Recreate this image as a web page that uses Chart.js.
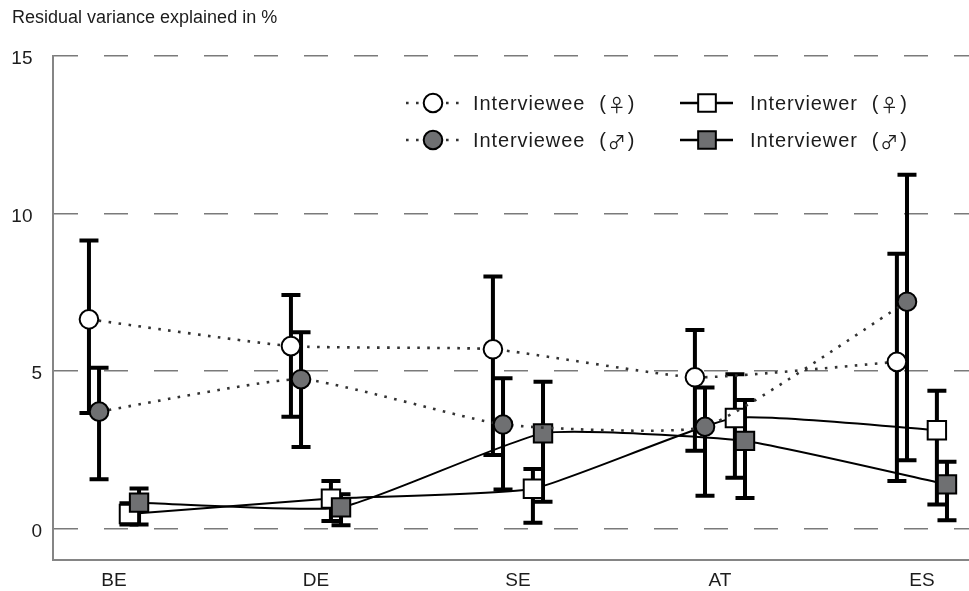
<!DOCTYPE html>
<html><head><meta charset="utf-8">
<script src="https://cdn.jsdelivr.net/npm/chart.js@4.4.1/dist/chart.umd.min.js"></script>
<style>html,body{margin:0;padding:0;background:#fff;overflow:hidden;}</style>
</head><body>
<canvas id="c" width="969" height="591"></canvas>
<script>
// ---------- DATA ----------
const categories = ['BE', 'DE', 'SE', 'AT', 'ES'];
const yTickValues = [0, 5, 10, 15];
const yTickLabels = ['0', '5', '10\u2002', '15\u2002'];
const titleText = 'Residual variance explained in %';

const intervieweeFemale     = [6.64, 5.79, 5.69, 4.80, 5.29];
const intervieweeFemaleLow  = [3.67, 3.55, 2.33, 2.47, 1.51];
const intervieweeFemaleHigh = [9.14, 7.41, 8.00, 6.30, 8.72];

const intervieweeMale       = [3.71, 4.74, 3.30, 3.23, 7.20];
const intervieweeMaleLow    = [1.56, 2.59, 1.24, 1.04, 2.17];
const intervieweeMaleHigh   = [5.10, 6.23, 4.77, 4.48, 11.23];

const interviewerFemale     = [0.46, 0.95, 1.26, 3.51, 3.12];
const interviewerFemaleLow  = [0.13, 0.24, 0.18, 1.61, 0.76];
const interviewerFemaleHigh = [0.80, 1.51, 1.89, 4.90, 4.37];

const interviewerMale       = [0.82, 0.67, 3.02, 2.78, 1.40];
const interviewerMaleLow    = [0.13, 0.10, 0.85, 0.97, 0.26];
const interviewerMaleHigh   = [1.27, 1.09, 4.66, 4.08, 2.12];

// ---------- STYLE ----------
const FONT = '"Liberation Sans", Arial, "DejaVu Sans", sans-serif';
const SYMBOL_FONT = '"Noto Sans CJK JP", "DejaVu Sans", sans-serif';
const GRAY = '#6f7072';
const TEXT = '#1c1c1c';

function pts(vals, off) { return vals.map((v, i) => ({x: i + off, y: v})); }

const series = {
  ieF: {label: 'Interviewee (\u2640)', data: pts(intervieweeFemale, -0.124), low: intervieweeFemaleLow, high: intervieweeFemaleHigh,
        dotted: true, style: 'circle', fill: '#ffffff'},
  ieM: {label: 'Interviewee (\u2642)', data: pts(intervieweeMale, -0.074), low: intervieweeMaleLow, high: intervieweeMaleHigh,
        dotted: true, style: 'circle', fill: GRAY},
  irF: {label: 'Interviewer (\u2640)', data: pts(interviewerFemale, 0.074), low: interviewerFemaleLow, high: interviewerFemaleHigh,
        dotted: false, style: 'rect', fill: '#ffffff'},
  irM: {label: 'Interviewer (\u2642)', data: pts(interviewerMale, 0.124), low: interviewerMaleLow, high: interviewerMaleHigh,
        dotted: false, style: 'rect', fill: GRAY}
};

function makeDataset(key) {
  const s = series[key];
  return {
    key: key,
    label: s.label,
    data: s.data,
    errLow: s.low,
    errHigh: s.high,
    borderColor: s.dotted ? '#333333' : '#000000',
    borderWidth: s.dotted ? 2.6 : 2,
    borderDash: s.dotted ? [2.6, 7.4] : [],
    tension: 0.15,
    pointStyle: s.style,
    pointRadius: s.style === 'circle' ? 9.3 : 13,
    pointBackgroundColor: s.fill,
    pointBorderColor: '#000000',
    pointBorderWidth: 2,
    fill: false
  };
}

// index 0 is drawn on top
const datasets = ['ieM', 'ieF', 'irM', 'irF'].map(makeDataset);

// ---------- PLUGINS ----------
const errorBars = {
  id: 'errorBars',
  beforeDatasetsDraw(chart) {
    const ctx = chart.ctx, xs = chart.scales.x, ys = chart.scales.y;
    ctx.save();
    ctx.strokeStyle = '#000';
    ctx.lineWidth = 4;
    ctx.lineCap = 'butt';
    chart.data.datasets.forEach(ds => {
      ds.data.forEach((p, i) => {
        const x = xs.getPixelForValue(p.x);
        const y1 = ys.getPixelForValue(ds.errLow[i]);
        const y2 = ys.getPixelForValue(ds.errHigh[i]);
        ctx.beginPath();
        ctx.moveTo(x, y1); ctx.lineTo(x, y2);
        ctx.moveTo(x - 9.5, y1); ctx.lineTo(x + 9.5, y1);
        ctx.moveTo(x - 9.5, y2); ctx.lineTo(x + 9.5, y2);
        ctx.stroke();
      });
    });
    ctx.restore();
  }
};

function drawMarker(ctx, ds, x, y) {
  ctx.save();
  ctx.fillStyle = ds.pointBackgroundColor;
  ctx.strokeStyle = ds.pointBorderColor;
  ctx.lineWidth = ds.pointBorderWidth;
  ctx.setLineDash([]);
  ctx.beginPath();
  if (ds.pointStyle === 'circle') {
    ctx.arc(x, y, ds.pointRadius, 0, Math.PI * 2);
  } else {
    const h = ds.pointRadius * Math.SQRT1_2;
    ctx.rect(x - h, y - h, 2 * h, 2 * h);
  }
  ctx.fill();
  ctx.stroke();
  ctx.restore();
}

// draws "Name (sym)" with a wider gap before the bracket and a larger gender symbol
function drawLabel(ctx, text, x, y) {
  const m = text.match(/^(.*?)\s*\((.)\)$/);
  const setText = () => {
    ctx.font = '20px ' + FONT;
    if ('letterSpacing' in ctx) ctx.letterSpacing = '0.9px';
  };
  const setSym = () => {
    ctx.font = '18px ' + SYMBOL_FONT;
    if ('letterSpacing' in ctx) ctx.letterSpacing = '0px';
  };
  setText();
  if (!m) { ctx.fillText(text, x, y); return; }
  ctx.fillText(m[1], x, y);
  let cx = x + ctx.measureText(m[1]).width + 14;
  ctx.fillText('(', cx, y);
  cx += ctx.measureText('(').width + 1;
  setSym();
  ctx.fillText(m[2], cx, y + 1);
  cx += ctx.measureText(m[2]).width + 2;
  setText();
  ctx.fillText(')', cx, y);
}

const customLegend = {
  id: 'customLegend',
  afterDraw(chart) {
    const ctx = chart.ctx;
    const layout = [
      {key: 'ieF', row: 0, col: 0}, {key: 'irF', row: 0, col: 1},
      {key: 'ieM', row: 1, col: 0}, {key: 'irM', row: 1, col: 1}
    ];
    const rowY = [103, 140];
    const cols = [{x0: 406, x1: 459, xm: 433, tx: 473}, {x0: 680, x1: 733, xm: 707, tx: 750}];
    layout.forEach(it => {
      const ds = chart.data.datasets.find(d => d.key === it.key);
      const y = rowY[it.row], c = cols[it.col];
      ctx.save();
      ctx.strokeStyle = ds.borderColor;
      ctx.lineWidth = ds.borderWidth + (ds.borderDash.length ? 0 : 0.5);
      ctx.setLineDash(ds.borderDash);
      ctx.beginPath();
      ctx.moveTo(c.x0, y); ctx.lineTo(c.x1, y);
      ctx.stroke();
      ctx.restore();
      drawMarker(ctx, Object.assign({}, ds, {pointRadius: ds.pointStyle === 'circle' ? 9.3 : 12.5}), c.xm, y);
      ctx.save();
      ctx.fillStyle = TEXT;
      ctx.textAlign = 'left';
      ctx.textBaseline = 'middle';
      drawLabel(ctx, ds.label, c.tx, y + 1);
      ctx.restore();
    });
  }
};

// ---------- CHART ----------
new Chart(document.getElementById('c'), {
  type: 'line',
  data: {datasets: datasets},
  plugins: [errorBars, customLegend],
  options: {
    responsive: false,
    animation: false,
    events: [],
    layout: {autoPadding: false, padding: {left: 12, right: 0, top: 0, bottom: 0}},
    plugins: {
      legend: {display: false},
      tooltip: {enabled: false},
      title: {
        display: true,
        text: titleText,
        align: 'start',
        color: TEXT,
        font: {family: FONT, size: 18, weight: 'normal'},
        padding: {top: 7, bottom: 27.4}
      }
    },
    scales: {
      x: {
        type: 'linear',
        min: -0.302,
        max: 4.233,
        afterBuildTicks: axis => { axis.ticks = categories.map((c, i) => ({value: i})); },
        afterFit: axis => { axis.height = 31; axis.paddingLeft = 0; axis.paddingRight = 0; },
        ticks: {
          callback: v => categories[v],
          color: TEXT,
          font: {family: FONT, size: 19},
          padding: 9,
          maxRotation: 0,
          autoSkip: false
        },
        grid: {display: false, drawTicks: false},
        border: {display: true, color: '#858585', width: 2}
      },
      y: {
        type: 'linear',
        min: -1,
        max: 15,
        afterBuildTicks: axis => { axis.ticks = yTickValues.map(v => ({value: v})); },
        afterFit: axis => { axis.width = 41; },
        ticks: {
          callback: (v) => yTickLabels[yTickValues.indexOf(v)],
          color: TEXT,
          font: {family: FONT, size: 19},
          padding: 11,
          labelOffset: 3
        },
        grid: {display: true, drawTicks: false, tickLength: 0, color: '#7a7a7a', lineWidth: 1.6},
        border: {display: true, color: '#858585', width: 2, dash: [24, 26]}
      }
    }
  }
});
</script>
</body></html>
